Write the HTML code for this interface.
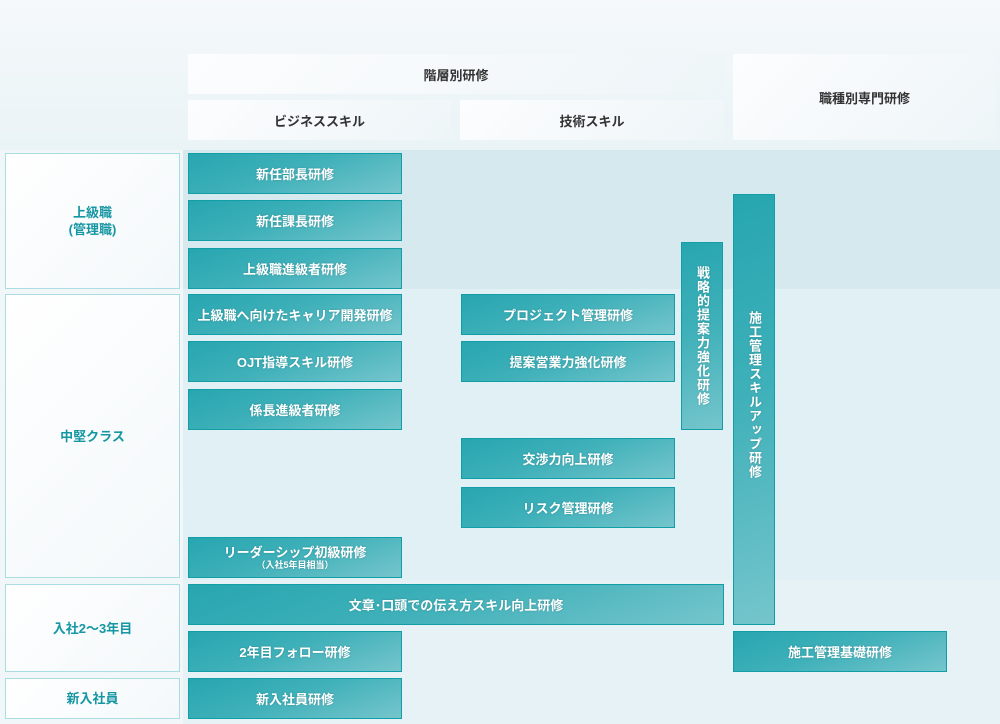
<!DOCTYPE html>
<html><head><meta charset="utf-8"><style>
*{margin:0;padding:0;box-sizing:border-box}
body{width:1000px;height:724px;position:relative;overflow:hidden;background:#eef5f8;font-family:"Liberation Sans","Noto Sans CJK JP",sans-serif;font-weight:bold}
.a{position:absolute}
.h{position:absolute;background:linear-gradient(135deg,#fcfdfe,#eef5f8);color:#333;font-size:13px;display:flex;align-items:center;justify-content:center}
.l{position:absolute;background:linear-gradient(135deg,#fff,#f3f8fa);border:1px solid #a9dde1;color:#1596a3;font-size:13px;display:flex;align-items:center;justify-content:center;text-align:center;line-height:17px}
.b{position:absolute;background:linear-gradient(160deg,#27a6b0 0%,#3eb0b9 45%,#75c5cc 100%);border:1px solid #129ea7;color:#fff;font-size:13px;display:flex;align-items:center;justify-content:center;text-shadow:0 0 2px rgba(0,0,0,.2)}
.vt{writing-mode:vertical-rl;letter-spacing:1px;line-height:16px}
</style></head><body>
<div class="a" style="left:0;top:0;width:1000px;height:150px;background:linear-gradient(180deg,#f5f9fb,#eaf3f6)"></div>
<div class="a" style="left:0;top:150px;width:183px;height:574px;background:#f1f7f9"></div>
<div class="a" style="left:183px;top:150px;width:817px;height:139px;background:#d6e9ef"></div>
<div class="a" style="left:183px;top:289px;width:817px;height:291px;background:#e1f0f4"></div>
<div class="a" style="left:183px;top:580px;width:817px;height:144px;background:#e6f2f5"></div>
<div class="h" style="left:188px;top:54px;width:536px;height:40px">階層別研修</div>
<div class="h" style="left:188px;top:100px;width:263px;height:40px">ビジネススキル</div>
<div class="h" style="left:460px;top:100px;width:264px;height:40px">技術スキル</div>
<div class="h" style="left:733px;top:54px;width:263px;height:86px">職種別専門研修</div>
<div class="l" style="left:5px;top:153px;width:175px;height:136px">上級職<br>(管理職)</div>
<div class="l" style="left:5px;top:294px;width:175px;height:284px">中堅クラス</div>
<div class="l" style="left:5px;top:584px;width:175px;height:88px">入社2～3年目</div>
<div class="l" style="left:5px;top:678px;width:175px;height:41px">新入社員</div>
<div class="b" style="left:188px;top:153px;width:214px;height:41px">新任部長研修</div>
<div class="b" style="left:188px;top:200px;width:214px;height:41px">新任課長研修</div>
<div class="b" style="left:188px;top:248px;width:214px;height:41px">上級職進級者研修</div>
<div class="b" style="left:188px;top:294px;width:214px;height:41px">上級職へ向けたキャリア開発研修</div>
<div class="b" style="left:188px;top:341px;width:214px;height:41px">OJT指導スキル研修</div>
<div class="b" style="left:188px;top:389px;width:214px;height:41px">係長進級者研修</div>
<div class="b" style="left:188px;top:537px;width:214px;height:41px;flex-direction:column;line-height:15px">リーダーシップ初級研修<span style="font-size:9px;line-height:11px">（入社5年目相当）</span></div>
<div class="b" style="left:188px;top:584px;width:536px;height:41px">文章･口頭での伝え方スキル向上研修</div>
<div class="b" style="left:188px;top:631px;width:214px;height:41px">2年目フォロー研修</div>
<div class="b" style="left:188px;top:678px;width:214px;height:41px">新入社員研修</div>
<div class="b" style="left:461px;top:294px;width:214px;height:41px">プロジェクト管理研修</div>
<div class="b" style="left:461px;top:341px;width:214px;height:41px">提案営業力強化研修</div>
<div class="b" style="left:461px;top:438px;width:214px;height:41px">交渉力向上研修</div>
<div class="b" style="left:461px;top:487px;width:214px;height:41px">リスク管理研修</div>
<div class="b" style="left:681px;top:242px;width:42px;height:188px"><span class="vt">戦略的提案力強化研修</span></div>
<div class="b" style="left:733px;top:194px;width:42px;height:431px;align-items:flex-start;padding-top:116px"><span class="vt">施工管理スキルアップ研修</span></div>
<div class="b" style="left:733px;top:631px;width:214px;height:41px">施工管理基礎研修</div>
</body></html>
